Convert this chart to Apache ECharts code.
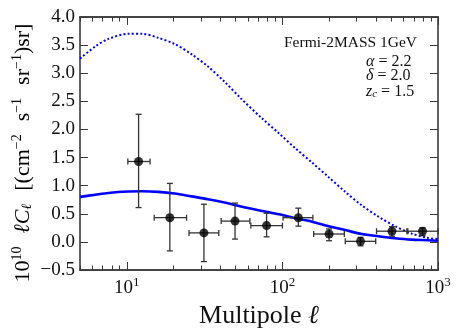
<!DOCTYPE html>
<html>
<head>
<meta charset="utf-8">
<script src="https://cdn.jsdelivr.net/npm/echarts@6/dist/echarts.min.js"></script>
<style>
html,body{margin:0;padding:0;background:#fff}
#chart{width:463px;height:335px}
</style>
</head>
<body>
<div id="chart"></div>
<script>
// measured band powers (multipole bins)
var ELL = [11.9, 18.9, 31.3, 49.6, 79.1, 126.6, 199.5, 317.7, 506, 795];
var ELL_LO = [10.15, 15.0, 25.1, 40.4, 62.7, 101, 158.8, 253.5, 402.6, 631];
var ELL_HI = [14.1, 24.2, 39.0, 61.8, 100, 157, 250, 397.8, 640, 1000];
var CL = [1.43, 0.43, 0.16, 0.37, 0.29, 0.43, 0.14, 0.01, 0.19, 0.19];
var CL_LO = [0.61, -0.16, -0.35, 0.05, 0.09, 0.28, 0.02, -0.07, 0.10, 0.11];
var CL_HI = [2.27, 1.04, 0.67, 0.69, 0.51, 0.60, 0.23, 0.08, 0.27, 0.25];

// model curves
var MODEL_ELL = [5, 6.3, 7.6, 10.2, 12.5, 15.9, 20.3, 26, 33.2, 42.4, 54.2, 74.4, 95.1, 121.6, 155.2, 198.4, 253.5, 323.6, 413.5, 528.4, 674.5, 862, 1000];
var MODEL_SOLID = [0.80, 0.84, 0.87, 0.895, 0.90, 0.89, 0.86, 0.81, 0.76, 0.70, 0.63, 0.55, 0.49, 0.42, 0.36, 0.28, 0.21, 0.14, 0.10, 0.065, 0.04, 0.03, 0.02];
var MODEL_DOTTED = [3.26, 3.48, 3.61, 3.70, 3.70, 3.63, 3.52, 3.34, 3.12, 2.85, 2.55, 2.19, 1.93, 1.66, 1.41, 1.15, 0.89, 0.65, 0.45, 0.28, 0.15, 0.07, 0.05];

var X_MAJOR = [10, 100, 1000];
var X_MINOR = [5, 6, 7, 8, 9, 20, 30, 40, 50, 60, 70, 80, 90, 200, 300, 400, 500, 600, 700, 800, 900];

var SERIF = 'Liberation Serif';
var AXIS_COLOR = '#3a3a3a';
var TXT = '#111';

var myChart = echarts.init(document.getElementById('chart'));

function zip(a, b) {
    var out = [];
    for (var i = 0; i < a.length; i++) out.push([a[i], b[i]]);
    return out;
}

var errData = [];
for (var i = 0; i < ELL.length; i++) {
    errData.push([ELL[i], CL[i], ELL_LO[i], ELL_HI[i], CL_LO[i], CL_HI[i]]);
}

function renderErr(params, api) {
    var c = api.coord([api.value(0), api.value(1)]);
    var l = api.coord([api.value(2), api.value(1)]);
    var r = api.coord([api.value(3), api.value(1)]);
    var lo = api.coord([api.value(0), api.value(4)]);
    var hi = api.coord([api.value(0), api.value(5)]);
    var cap = 3;
    var st = {stroke: '#333', lineWidth: 1.3};
    var segs = [
        [l[0], c[1], r[0], c[1]],
        [l[0], c[1] - cap, l[0], c[1] + cap],
        [r[0], c[1] - cap, r[0], c[1] + cap],
        [c[0], lo[1], c[0], hi[1]],
        [c[0] - cap, lo[1], c[0] + cap, lo[1]],
        [c[0] - cap, hi[1], c[0] + cap, hi[1]]
    ];
    return {
        type: 'group',
        children: segs.map(function (s) {
            return {type: 'line', shape: {x1: s[0], y1: s[1], x2: s[2], y2: s[3]}, style: st};
        })
    };
}

function xAxisDef(pos, values, len, showLabel) {
    return {
        type: 'log',
        logBase: 10,
        min: 5,
        max: 1000,
        position: pos,
        axisLine: {show: true, onZero: false, lineStyle: {color: AXIS_COLOR, width: 1.6}},
        axisTick: {show: true, inside: true, length: len, customValues: values,
            lineStyle: {color: AXIS_COLOR, width: 1}},
        axisLabel: {
            show: showLabel,
            customValues: X_MAJOR,
            margin: 6,
            formatter: function (v) {
                var e = Math.round(Math.log(v) / Math.LN10);
                return '{a|10}{s|' + e + '}';
            },
            rich: {
                a: {fontFamily: SERIF, fontSize: 19, color: TXT, verticalAlign: 'bottom', lineHeight: 22},
                s: {fontFamily: SERIF, fontSize: 13, color: TXT, verticalAlign: 'top', lineHeight: 15}
            }
        },
        splitLine: {show: false}
    };
}

var yTitleRich = {
    a: {fontFamily: SERIF, fontSize: 22, color: TXT, verticalAlign: 'bottom', lineHeight: 24},
    i: {fontFamily: SERIF, fontStyle: 'italic', fontSize: 22, color: TXT, verticalAlign: 'bottom', lineHeight: 24},
    s: {fontFamily: SERIF, fontSize: 14, color: TXT, verticalAlign: 'top', lineHeight: 17},
    sub: {fontFamily: SERIF, fontStyle: 'italic', fontSize: 14, color: TXT, verticalAlign: 'bottom', lineHeight: 10},
    g: {fontSize: 22, width: 13, lineHeight: 24}
};

var option = {
    animation: false,
    backgroundColor: '#fff',
    grid: {left: 80, right: 25, top: 17, bottom: 65},
    xAxis: [
        Object.assign(xAxisDef('bottom', X_MAJOR, 8, true), {
            name: 'Multipole {i|ℓ}',
            nameLocation: 'middle',
            nameGap: 33,
            nameTextStyle: {fontFamily: SERIF, fontSize: 26, color: TXT,
                rich: {i: {fontFamily: SERIF, fontStyle: 'italic', fontSize: 26, color: TXT}}}
        }),
        xAxisDef('bottom', X_MINOR, 4.5, false),
        xAxisDef('top', X_MAJOR, 8, false),
        xAxisDef('top', X_MINOR, 4.5, false)
    ],
    yAxis: [
        {
            type: 'value',
            min: -0.5,
            max: 4.0,
            interval: 0.5,
            position: 'left',
            axisLine: {show: true, lineStyle: {color: AXIS_COLOR, width: 1.6}},
            axisTick: {show: true, inside: true, length: 8, lineStyle: {color: AXIS_COLOR}},
            axisLabel: {
                fontFamily: SERIF, fontSize: 19, color: TXT, margin: 5,
                formatter: function (v) { return v.toFixed(1).replace('-', '\u2212'); }
            },
            splitLine: {show: false}
        },
        {
            type: 'value',
            min: -0.5,
            max: 4.0,
            interval: 0.5,
            position: 'right',
            axisLine: {show: true, lineStyle: {color: AXIS_COLOR, width: 1.6}},
            axisTick: {show: true, inside: true, length: 8, lineStyle: {color: AXIS_COLOR}},
            axisLabel: {show: false},
            splitLine: {show: false}
        }
    ],
    series: [
        {
            type: 'line',
            data: zip(MODEL_ELL, MODEL_DOTTED),
            smooth: 0.3,
            showSymbol: false,
            lineStyle: {color: '#0000ff', width: 2, type: [2, 2.2]},
            z: 2
        },
        {
            type: 'line',
            data: zip(MODEL_ELL, MODEL_SOLID),
            smooth: 0.3,
            showSymbol: false,
            lineStyle: {color: '#0000ff', width: 2.6},
            z: 2
        },
        {
            type: 'custom',
            data: errData,
            renderItem: renderErr,
            encode: {x: 0, y: 1},
            z: 3
        },
        {
            type: 'scatter',
            data: zip(ELL, CL),
            symbol: 'circle',
            symbolSize: 9,
            itemStyle: {color: '#000'},
            z: 4
        }
    ],
    graphic: [
        {type: 'text', x: 22, y: 153, rotation: Math.PI / 2,
            style: {
                text: '{a|10}{s|10}{g| }{i|ℓC}{sub|ℓ}{g| }{a|[(cm}{s|\u22122}{g| }{a|s}{s|\u22121}{g| }{a|sr}{s|\u22121}{a|)sr]}',
                rich: yTitleRich, align: 'center', verticalAlign: 'middle'
            }},
        {type: 'text', x: 284, y: 43,
            style: {text: 'Fermi-2MASS 1GeV', font: '15.5px "Liberation Serif"', fill: TXT, verticalAlign: 'middle'}},
        {type: 'text', x: 366, y: 62,
            style: {text: '{i|α} = 2.2', rich: {i: {fontStyle: 'italic', fontFamily: SERIF, fontSize: 16}},
                font: '16px "Liberation Serif"', fill: TXT, verticalAlign: 'middle'}},
        {type: 'text', x: 366, y: 76,
            style: {text: '{i|δ} = 2.0', rich: {i: {fontStyle: 'italic', fontFamily: SERIF, fontSize: 16}},
                font: '16px "Liberation Serif"', fill: TXT, verticalAlign: 'middle'}},
        {type: 'text', x: 366, y: 91,
            style: {text: '{i|z}{sub|c}{t| = 1.5}', verticalAlign: 'middle', fill: TXT,
                rich: {
                    i: {fontStyle: 'italic', fontFamily: SERIF, fontSize: 16, verticalAlign: 'bottom', lineHeight: 18},
                    sub: {fontStyle: 'italic', fontFamily: SERIF, fontSize: 11, verticalAlign: 'bottom', lineHeight: 8},
                    t: {fontFamily: SERIF, fontSize: 16, verticalAlign: 'bottom', lineHeight: 18}
                }}}
    ]
};
myChart.setOption(option);
</script>
</body>
</html>
